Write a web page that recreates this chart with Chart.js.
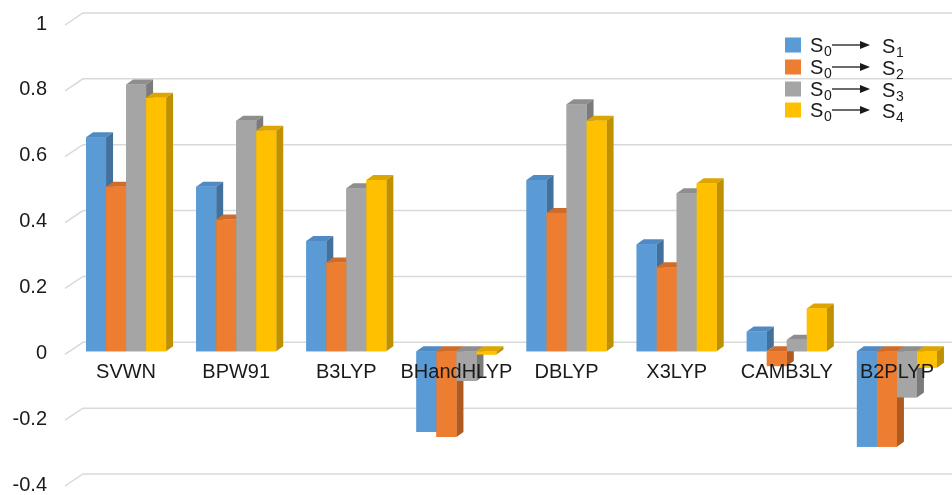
<!DOCTYPE html>
<html>
<head>
<meta charset="utf-8">
<script src="https://cdn.jsdelivr.net/npm/chart.js@4/dist/chart.umd.min.js"></script>
<style>
  html, body { margin: 0; padding: 0; background: #ffffff; overflow: hidden; }
  #wrap { width: 952px; height: 495px; position: relative; }
</style>
</head>
<body>
<div id="wrap"><canvas id="chart" width="952" height="495"></canvas></div>
<script>
// Functionals on the category axis
const categories = ['SVWN', 'BPW91', 'B3LYP', 'BHandHLYP', 'DBLYP', 'X3LYP', 'CAMB3LY', 'B2PLYP'];

// Excitation values for each transition
const s0s1 = [0.65, 0.50, 0.335, -0.245, 0.52, 0.325, 0.06, -0.29];
const s0s2 = [0.50, 0.40, 0.27, -0.26, 0.42, 0.255, -0.045, -0.29];
const s0s3 = [0.81, 0.70, 0.495, -0.09, 0.75, 0.48, 0.035, -0.14];
const s0s4 = [0.77, 0.67, 0.52, -0.01, 0.70, 0.51, 0.13, -0.05];

// Legend: initial and final state indices of each transition
const fromStates = ['0', '0', '0', '0'];
const toStates = ['1', '2', '3', '4'];

// Value axis ticks
const yTicks = [-0.4, -0.2, 0, 0.2, 0.4, 0.6, 0.8, 1];
const yTickLabels = ['-0.4', '-0.2', '0', '0.2', '0.4', '0.6', '0.8', '1'];

const FONT = '"Liberation Sans", Arial, sans-serif';
const front = ['#5B9BD5', '#ED7D31', '#A5A5A5', '#FFC000'];
const topFace = ['#4F8AC4', '#D06C29', '#8E8E8E', '#DCA500'];
const sideFace = ['#41719C', '#AE5A21', '#7B7B7B', '#BF9000'];
const DX = 7, DY = -5;

// Back-wall grid lines with the receding floor edge on the left
const backGrid = {
  id: 'backGrid',
  beforeDatasetsDraw(chart) {
    const ctx = chart.ctx;
    const y = chart.scales.y;
    ctx.save();
    ctx.strokeStyle = '#d9d9d9';
    ctx.lineWidth = 1.5;
    yTicks.forEach(v => {
      const p = y.getPixelForValue(v);
      ctx.beginPath();
      ctx.moveTo(65, p + 3);
      ctx.lineTo(83, p - 9);
      ctx.lineTo(chart.width, p - 9);
      ctx.stroke();
    });
    ctx.restore();
  }
};

// Extruded bars: front, top and right faces, left to right so neighbours overlap correctly
const bars3d = {
  id: 'bars3d',
  afterDatasetsDraw(chart) {
    const ctx = chart.ctx;
    const n = chart.data.datasets.length;
    ctx.save();
    for (let i = 0; i < categories.length; i++) {
      for (let d = 0; d < n; d++) {
        const el = chart.getDatasetMeta(d).data[i];
        if (!el) continue;
        const { x, y, base, width } = el.getProps(['x', 'y', 'base', 'width'], true);
        const l = x - width / 2, r = x + width / 2;
        const t = Math.min(y, base), b = Math.max(y, base);
        // top face
        ctx.fillStyle = topFace[d];
        ctx.beginPath();
        ctx.moveTo(l, t);
        ctx.lineTo(l + DX, t + DY);
        ctx.lineTo(r + DX, t + DY);
        ctx.lineTo(r, t);
        ctx.closePath();
        ctx.fill();
        // side face
        ctx.fillStyle = sideFace[d];
        ctx.beginPath();
        ctx.moveTo(r, t);
        ctx.lineTo(r + DX, t + DY);
        ctx.lineTo(r + DX, b + DY);
        ctx.lineTo(r, b);
        ctx.closePath();
        ctx.fill();
        // front face
        ctx.fillStyle = front[d];
        ctx.fillRect(l, t, width, b - t);
      }
    }
    ctx.restore();
  }
};

// Legend with subscripted state labels and arrows
const transitionLegend = {
  id: 'transitionLegend',
  afterDraw(chart) {
    const ctx = chart.ctx;
    const rows = [45, 67, 89, 110];
    ctx.save();
    ctx.textBaseline = 'alphabetic';
    ctx.textAlign = 'left';
    rows.forEach((cy, k) => {
      ctx.fillStyle = front[k];
      ctx.fillRect(785, cy - 7.5, 16, 15);
      ctx.fillStyle = '#1a1a1a';
      ctx.font = '20px ' + FONT;
      ctx.fillText('S', 810, cy + 7);
      ctx.font = '14px ' + FONT;
      ctx.fillText(fromStates[k], 824, cy + 11);
      // arrow
      ctx.strokeStyle = '#1a1a1a';
      ctx.lineWidth = 1.3;
      ctx.beginPath();
      ctx.moveTo(832, cy);
      ctx.lineTo(862, cy);
      ctx.stroke();
      ctx.beginPath();
      ctx.moveTo(870, cy);
      ctx.lineTo(860, cy - 4);
      ctx.lineTo(860, cy + 4);
      ctx.closePath();
      ctx.fill();
      ctx.font = '20px ' + FONT;
      ctx.fillText('S', 882, cy + 8);
      ctx.font = '14px ' + FONT;
      ctx.fillText(toStates[k], 896, cy + 12);
    });
    ctx.restore();
  }
};

const seriesData = [s0s1, s0s2, s0s3, s0s4];

new Chart(document.getElementById('chart'), {
  type: 'bar',
  data: {
    labels: categories,
    datasets: seriesData.map((vals, k) => ({
      label: 'S' + fromStates[k] + '→S' + toStates[k],
      data: vals,
      backgroundColor: front[k],
      borderWidth: 0,
      categoryPercentage: 0.727,
      barPercentage: 1.0
    }))
  },
  options: {
    responsive: false,
    animation: false,
    devicePixelRatio: 1,
    layout: { padding: { left: 0, right: 0, top: 22, bottom: 12 } },
    plugins: {
      legend: { display: false },
      tooltip: { enabled: false }
    },
    scales: {
      x: {
        position: { y: 0 },
        afterFit(scale) {
          scale.height = 0;
          scale.paddingLeft = 0;
          scale.paddingRight = 0;
        },
        grid: { display: false, drawTicks: false },
        border: { display: false },
        ticks: {
          z: 1,
          color: '#1a1a1a',
          font: { family: FONT, size: 20 },
          padding: 9,
          maxRotation: 0,
          autoSkip: false
        }
      },
      y: {
        min: -0.4,
        max: 1,
        afterBuildTicks(scale) {
          scale.ticks = yTicks.map(v => ({ value: v }));
        },
        afterFit(scale) {
          scale.width = 71;
          scale.paddingTop = 0;
          scale.paddingBottom = 0;
        },
        grid: { display: false, drawTicks: false },
        border: { display: false },
        ticks: {
          color: '#1a1a1a',
          font: { family: FONT, size: 20 },
          padding: 24,
          labelOffset: 2,
          callback(value) {
            const idx = yTicks.findIndex(t => Math.abs(t - value) < 1e-9);
            return idx >= 0 ? yTickLabels[idx] : '';
          }
        }
      }
    }
  },
  plugins: [backGrid, bars3d, transitionLegend]
});
</script>
</body>
</html>
